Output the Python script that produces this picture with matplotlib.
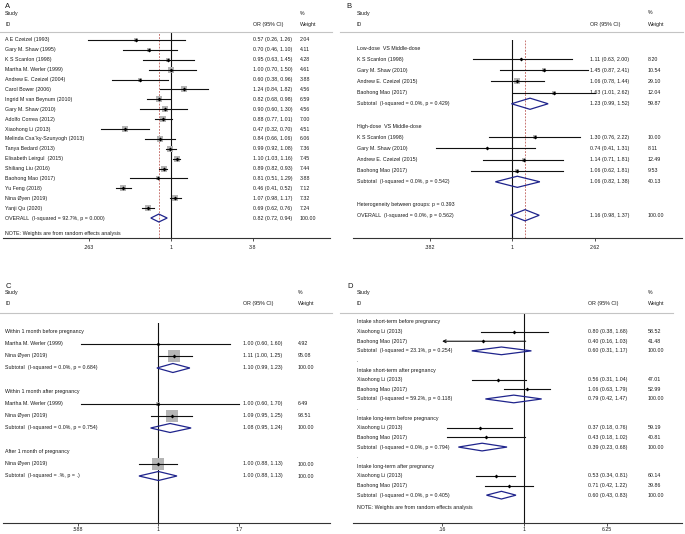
import numpy as np
import matplotlib.pyplot as plt
from matplotlib.transforms import blended_transform_factory

plt.rcParams['font.family'] = ['Liberation Sans', 'DejaVu Sans']

# ---------------- data ----------------
a_labels = ["A E Czeizel (1993)", "Gary M. Shaw (1995)", "K S Scanlon (1998)",
            "Martha M. Werler (1999)", "Andrew E. Czeizel (2004)", "Carol Bower (2006)",
            "Ingrid M van Beynum (2010)", "Gary M. Shaw (2010)", "Adolfo Correa (2012)",
            "Xiaohong Li (2013)", "Melinda Csa\u00b4ky-Szunyogh (2013)", "Tanya Bedard (2013)",
            "Elisabeth Leirgul  (2015)", "Shiliang Liu (2016)", "Baohong Mao (2017)",
            "Yu Feng (2018)", "Nina \u00d8yen (2019)", "Yanji Qu (2020)",
            "OVERALL  (I-squared = 92.7%, p = 0.000)"]
a_or = [0.57, 0.70, 0.95, 1.00, 0.60, 1.24, 0.82, 0.90, 0.88, 0.47, 0.84, 0.99, 1.10, 0.89, 0.81, 0.46, 1.07, 0.69, 0.82]
a_lo = [0.26, 0.46, 0.63, 0.70, 0.38, 0.84, 0.68, 0.60, 0.77, 0.32, 0.66, 0.92, 1.03, 0.82, 0.51, 0.41, 0.98, 0.62, 0.72]
a_hi = [1.26, 1.10, 1.45, 1.50, 0.96, 1.82, 0.98, 1.30, 1.01, 0.70, 1.06, 1.08, 1.16, 0.93, 1.29, 0.52, 1.17, 0.76, 0.94]
a_wt = [2.04, 4.11, 4.28, 4.61, 3.88, 4.56, 6.59, 4.56, 7.00, 4.51, 6.06, 7.36, 7.45, 7.44, 3.88, 7.12, 7.32, 7.24, 100.00]
a_ticks = [0.263, 1, 3.8]
a_ticklabels = [".263", "1", "3.8"]

b_labels = ["Low-dose  VS Middle-dose", "K S Scanlon (1998)", "Gary M. Shaw (2010)",
            "Andrew E. Czeizel (2015)", "Baohong Mao (2017)",
            "Subtotal  (I-squared = 0.0%, p = 0.429)", "",
            "High-dose  VS Middle-dose", "K S Scanlon (1998)", "Gary M. Shaw (2010)",
            "Andrew E. Czeizel (2015)", "Baohong Mao (2017)",
            "Subtotal  (I-squared = 0.0%, p = 0.542)", "",
            "Heterogeneity between groups: p = 0.393",
            "OVERALL  (I-squared = 0.0%, p = 0.562)"]
b_or = [None, 1.11, 1.45, 1.06, 1.63, 1.23, None, None, 1.30, 0.74, 1.14, 1.06, 1.06, None, None, 1.16]
b_lo = [None, 0.63, 0.87, 0.78, 1.01, 0.99, None, None, 0.76, 0.41, 0.71, 0.62, 0.82, None, None, 0.98]
b_hi = [None, 2.00, 2.41, 1.44, 2.62, 1.52, None, None, 2.22, 1.31, 1.81, 1.81, 1.38, None, None, 1.37]
b_wt = [None, 8.20, 10.54, 29.10, 12.04, 59.87, None, None, 10.00, 8.11, 12.49, 9.53, 40.13, None, None, 100.00]
b_ticks = [0.382, 1, 2.62]
b_ticklabels = [".382", "1", "2.62"]

c_labels = ["Within 1 month before pregnancy", "Martha M. Werler (1999)", "Nina \u00d8yen (2019)",
            "Subtotal  (I-squared = 0.0%, p = 0.684)", "",
            "Within 1 month after pregnancy", "Martha M. Werler (1999)", "Nina \u00d8yen (2019)",
            "Subtotal  (I-squared = 0.0%, p = 0.754)", "",
            "After 1 month of pregnancy", "Nina \u00d8yen (2019)",
            "Subtotal  (I-squared = .%, p = .)"]
c_or = [None, 1.00, 1.11, 1.10, None, None, 1.00, 1.09, 1.08, None, None, 1.00, 1.00]
c_lo = [None, 0.60, 1.00, 0.99, None, None, 0.60, 0.95, 0.95, None, None, 0.88, 0.88]
c_hi = [None, 1.60, 1.25, 1.23, None, None, 1.70, 1.25, 1.24, None, None, 1.13, 1.13]
c_wt = [None, 4.92, 95.08, 100.00, None, None, 6.49, 93.51, 100.00, None, None, 100.00, 100.00]
c_ticks = [0.588, 1, 1.7]
c_ticklabels = [".588", "1", "1.7"]

d_labels = ["Intake short-term before pregnancy", "Xiaohong Li (2013)", "Baohong Mao (2017)",
            "Subtotal  (I-squared = 23.1%, p = 0.254)", ".",
            "Intake short-term after pregnancy", "Xiaohong Li (2013)", "Baohong Mao (2017)",
            "Subtotal  (I-squared = 59.2%, p = 0.118)", ".",
            "Intake long-term before pregnancy", "Xiaohong Li (2013)", "Baohong Mao (2017)",
            "Subtotal  (I-squared = 0.0%, p = 0.794)", ".",
            "Intake long-term after pregnancy", "Xiaohong Li (2013)", "Baohong Mao (2017)",
            "Subtotal  (I-squared = 0.0%, p = 0.405)"]
d_or = [None, 0.80, 0.40, 0.60, None, None, 0.56, 1.06, 0.79, None, None, 0.37, 0.43, 0.39, None, None, 0.53, 0.71, 0.60]
d_lo = [None, 0.38, 0.16, 0.31, None, None, 0.31, 0.63, 0.42, None, None, 0.18, 0.18, 0.23, None, None, 0.34, 0.42, 0.43]
d_hi = [None, 1.68, 1.03, 1.17, None, None, 1.04, 1.79, 1.47, None, None, 0.76, 1.02, 0.68, None, None, 0.81, 1.22, 0.83]
d_wt = [None, 58.52, 41.48, 100.00, None, None, 47.01, 52.99, 100.00, None, None, 59.19, 40.81, 100.00, None, None, 60.14, 39.86, 100.00]
d_ticks = [0.16, 1, 6.25]
d_ticklabels = [".16", "1", "6.25"]

note = "NOTE: Weights are from random effects analysis"

# ---------------- style ----------------
W, H = 685, 534
FS = 3.8
TXT = '#1a1a1a'
NAVY = '#1f248c'
BOXC = '#b5b5b5'
REDL = '#c0605c'
LINE = '#111111'

fig = plt.figure(figsize=(W / 100, H / 100), dpi=100)


def forest(labels, ors, los, his, wts, ticks, ticklabels, lay):
    left, right, top, bottom = lay['box']
    row0, pitch = lay['row0'], lay['pitch']
    ax = fig.add_axes([left / W, 1 - bottom / H, (right - left) / W, (bottom - top) / H])
    ax.set_xscale('log')
    ax.set_xlim(*lay['xlim'])
    ax.set_ylim((bottom - row0) / pitch, (top - row0) / pitch)

    def ry(py):
        return (py - row0) / pitch

    def fx(px):
        return (px - left) / (right - left)

    tr = blended_transform_factory(ax.transAxes, ax.transData)
    kw = dict(transform=tr, fontsize=FS, color=TXT, va='center', clip_on=False)

    # header
    ax.text(fx(lay['letter'][0]), ry(lay['letter'][1]), lay['name'], transform=tr,
            fontsize=5.5, color=TXT, va='center', clip_on=False)
    ax.text(fx(lay['lab_x']), ry(lay['study_y']), "Study", **kw)
    ax.text(fx(lay['wt_x']), ry(lay['study_y']), "%", **kw)
    ax.text(fx(lay['lab_x']), ry(lay['id_y']), "ID", **kw)
    ax.text(fx(lay['or_x']), ry(lay['id_y']), "OR (95% CI)", **kw)
    ax.text(fx(lay['wt_x']), ry(lay['id_y']), "Weight", **kw)
    ax.plot([fx(lay['hline'][0]), fx(lay['hline'][1])], [ry(lay['hline'][2])] * 2,
            transform=tr, color='#c4c4c4', lw=0.8, clip_on=False)

    ax.axvline(1, color=LINE, lw=0.8, zorder=1)
    if lay.get('overall'):
        ax.axvline(lay['overall'], color=REDL, lw=0.6, ls=(0, (2.2, 1.6)), zorder=1)

    clip = lay.get('clip')  # CI lower limits at or below this get an arrow
    for i, lab in enumerate(labels):
        ax.text(fx(lay['lab_x']), i, lab, **kw)
        if ors[i] is None:
            continue
        o, lo, hi, w = ors[i], los[i], his[i], wts[i]
        ax.text(fx(lay['or_x']), i, "%.2f (%.2f, %.2f)" % (o, lo, hi), **kw)
        ax.text(fx(lay['wt_x']), i, "%.2f" % w, **kw)
        if lab.startswith("Subtotal") or lab.startswith("OVERALL"):
            h = lay['dmd_h']
            ax.fill([lo, o, hi, o, lo], [i, i - h, i, i + h, i], facecolor='none',
                    edgecolor=NAVY, lw=0.9, zorder=5)
            continue
        if lay['box_k'] > 0:
            side = lay['box_k'] * np.sqrt(w) * 0.72
            ax.scatter([o], [i], marker='s', s=side ** 2, color=BOXC, lw=0, zorder=2)
        if clip is not None and lo <= clip:
            ax.annotate('', xy=(clip, i), xytext=(hi, i),
                        arrowprops=dict(arrowstyle='->', lw=0.8, color=LINE,
                                        shrinkA=0, shrinkB=0, mutation_scale=5), zorder=3)
        else:
            ax.plot([lo, hi], [i, i], color=LINE, lw=0.8, zorder=3)
        ax.plot([o], [i], marker='D', ms=2.0, color='black', mew=0, zorder=4)

    if lay.get('note_y'):
        ax.text(fx(lay['lab_x']), ry(lay['note_y']), note, **kw)

    for s in ['top', 'left', 'right']:
        ax.spines[s].set_visible(False)
    ax.spines['bottom'].set_color('#333333')
    ax.spines['bottom'].set_linewidth(0.8)
    ax.set_yticks([])
    ax.set_xticks(ticks)
    ax.set_xticklabels(ticklabels)
    ax.minorticks_off()
    ax.tick_params(axis='x', direction='out', length=2.2, width=0.6, colors='#333333',
                   labelsize=FS, labelcolor=TXT, pad=lay.get('pad', 2))
    ax.patch.set_visible(False)
    return ax


forest(a_labels, a_or, a_lo, a_hi, a_wt, a_ticks, a_ticklabels,
       dict(name="A", box=(3, 330, 32, 238), row0=40, pitch=9.89,
            xlim=(0.0648, 13.33), letter=(5, 6.5), study_y=14, id_y=24.5,
            hline=(0, 332, 32.5), lab_x=5, or_x=253, wt_x=300,
            box_k=2.4, dmd_h=0.4, overall=a_or[-1], note_y=233, pad=2.5))

forest(b_labels, b_or, b_lo, b_hi, b_wt, b_ticks, b_ticklabels,
       dict(name="B", box=(353, 682, 40, 238), row0=48, pitch=11.15,
            xlim=(0.155, 7.28), letter=(346, 6), study_y=13, id_y=24.5,
            hline=(340, 683, 32), lab_x=357, or_x=590, wt_x=648,
            box_k=1.0, dmd_h=0.5, overall=b_or[-1], pad=2.5))

forest(c_labels, c_or, c_lo, c_hi, c_wt, c_ticks, c_ticklabels,
       dict(name="C", box=(3, 330, 323, 523), row0=332, pitch=12,
            xlim=(0.360, 3.09), letter=(6, 286.5), study_y=293, id_y=303.5,
            hline=(0, 332, 313.5), lab_x=5, or_x=243, wt_x=298,
            box_k=1.25, dmd_h=0.375, pad=0.6))

forest(d_labels, d_or, d_lo, d_hi, d_wt, d_ticks, d_ticklabels,
       dict(name="D", box=(353, 682, 314, 523), row0=322, pitch=9.62,
            xlim=(0.0220, 33.5), letter=(347, 286.5), study_y=293, id_y=304,
            hline=(340, 673, 313.5), lab_x=357, or_x=588, wt_x=648,
            box_k=0, dmd_h=0.4, note_y=507, clip=d_ticks[0], pad=0.6))

fig.savefig("out.png", dpi=100)
